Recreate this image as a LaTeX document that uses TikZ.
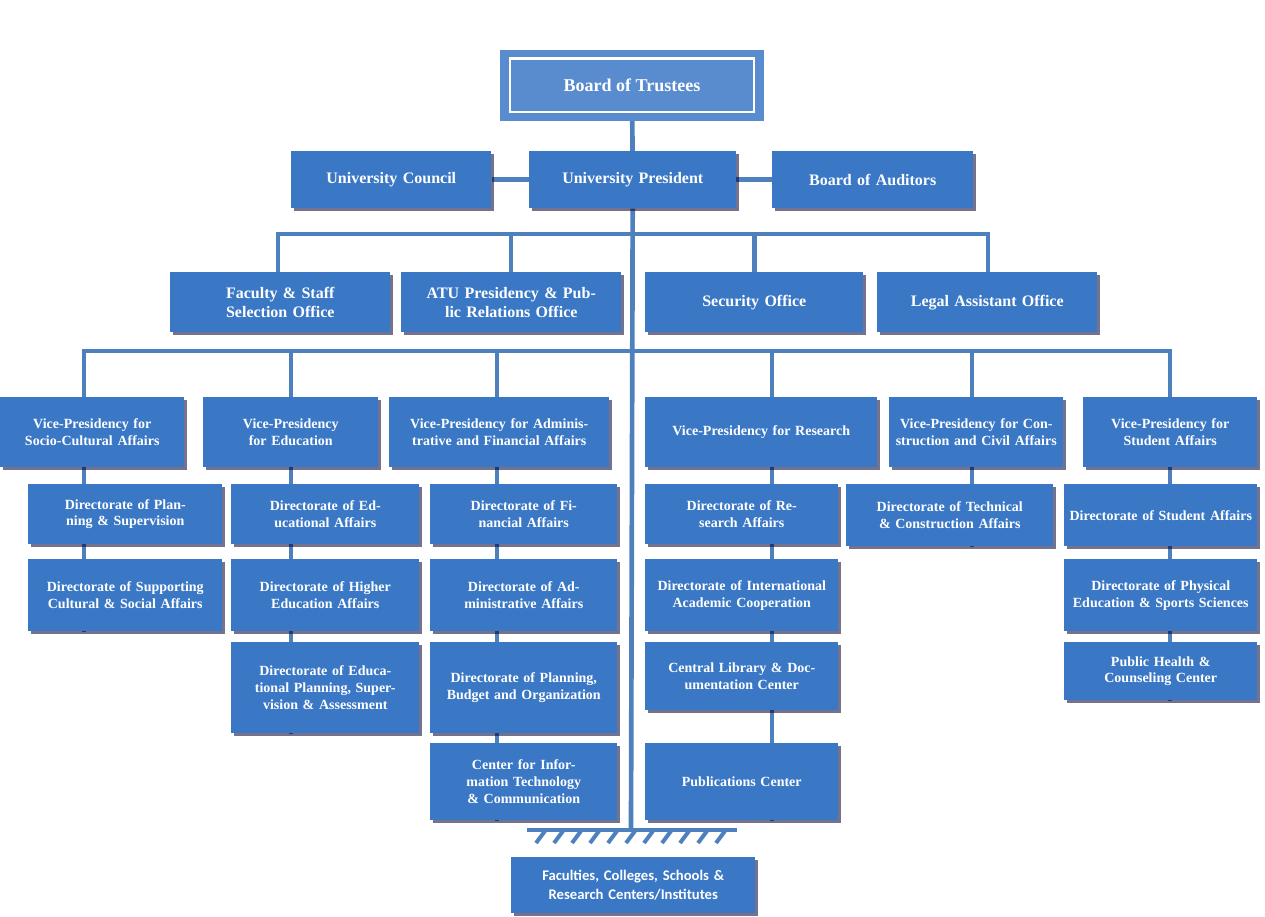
\documentclass[tikz,border=0pt]{standalone}
\usepackage{fontspec}
\setmainfont{Liberation Serif}
\newfontfamily\carl{Carlito}
\usetikzlibrary{shadows,backgrounds,calc}
\definecolor{boxblue}{RGB}{58,120,198}
\definecolor{linecol}{RGB}{78,128,190}
\tikzset{
 box/.style={fill=boxblue,draw=none,text=white,font=\bfseries\fontsize{10.5}{12.5}\selectfont,align=center,inner sep=1pt,
   drop shadow={shadow xshift=2pt,shadow yshift=-2pt,fill=black!80!blue,opacity=.55}},
 big/.style={font=\bfseries\fontsize{12}{14}\selectfont},
 conn/.style={draw=linecol,line width=3.5pt},
}
\newcommand\bx[7][]{%
 \pgfmathsetmacro\ww{(#5-#3)*0.75}\pgfmathsetmacro\hh{(#6-#4)*0.75}%
 \node[box,#1,minimum width=\ww pt,minimum height=\hh pt,text width=\ww pt-6pt,anchor=north west] (#2) at (#3,#4) {#7};}
\begin{document}
\begin{tikzpicture}[x=0.75pt,y=-0.75pt]
\useasboundingbox (0,0) rectangle (1265,917);
% Board of Trustees
\node[fill=boxblue!85!white,draw=boxblue!85!white,line width=3pt,minimum width=195pt,minimum height=50pt,anchor=north west,text=white,font=\bfseries\fontsize{13.5}{16}\selectfont] (bot) at (500,50) {};
\node[draw=white,line width=2pt,minimum width=183pt,minimum height=40pt,text=white,font=\bfseries\fontsize{13.5}{16}\selectfont] (boti) at (bot.center) {Board of Trustees};
\bx[big]{uc}{291}{151}{491}{208}{University Council}
\bx[big]{up}{529}{151}{736}{208}{University President}
\bx[big]{ba}{772}{151}{973}{208}{Board of Auditors}
\bx[big]{fs}{170}{272}{390}{332}{Faculty \& Staff Selection Office}
\bx[big]{atu}{401}{272}{621}{332}{ATU Presidency \& Public Relations Office}
\bx[big]{sec}{645}{272}{863}{332}{Security Office}
\bx[big]{leg}{877}{272}{1097}{332}{Legal Assistant Office}
% VPs
\bx{vp1}{0}{397}{184}{467}{Vice-Presidency for Socio-Cultural Affairs}
\bx{vp2}{203}{397}{378}{467}{Vice-Presidency for Education}
\bx{vp3}{389}{397}{609}{467}{Vice-Presidency for Administrative and Financial Affairs}
\bx{vp4}{645}{397}{877}{467}{Vice-Presidency for Research}
\bx{vp5}{889}{397}{1063}{467}{Vice-Presidency for Construction and Civil Affairs}
\bx{vp6}{1083}{397}{1257}{467}{Vice-Presidency for Student Affairs}
% col1
\bx{a1}{28}{484}{222}{544}{Directorate of Planning \& Supervision}
\bx{a2}{28}{559}{222}{631}{Directorate of Supporting Cultural \& Social Affairs}
% col2
\bx{b1}{231}{484}{419}{544}{Directorate of Educational Affairs}
\bx{b2}{231}{559}{419}{631}{Directorate of Higher Education Affairs}
\bx{b3}{231}{642}{419}{733}{Directorate of Educational Planning, Supervision \& Assessment}
% col3
\bx{c1}{430}{484}{617}{544}{Directorate of Financial Affairs}
\bx{c2}{430}{559}{617}{631}{Directorate of Administrative Affairs}
\bx{c3}{430}{642}{617}{733}{Directorate of Planning, Budget and Organization}
\bx{c4}{430}{743}{617}{820}{Center for Information Technology \& Communication}
% col4
\bx{d1}{645}{484}{838}{544}{Directorate of Research Affairs}
\bx{d2}{645}{559}{838}{631}{Directorate of International Academic Cooperation}
\bx{d3}{645}{642}{838}{710}{Central Library \& Documentation Center}
\bx{d4}{645}{743}{838}{820}{Publications Center}
% col5
\bx{e1}{846}{484}{1053}{546}{Directorate of Technical \& Construction Affairs}
% col6
\bx{f1}{1064}{484}{1257}{546}{Directorate of Student Affairs}
\bx{f2}{1064}{559}{1257}{631}{Directorate of Physical Education \& Sports Sciences}
\bx{f3}{1064}{642}{1257}{700}{Public Health \& Counseling Center}
% bottom
\bx[font=\carl\bfseries\fontsize{11}{14}\selectfont]{fac}{511}{857}{755}{913}{Faculties, Colleges, Schools \& Research Centers/Institutes}
\coordinate (bar1) at (631,234);
\coordinate (bar2) at (631,351);
\coordinate (hb) at (631,830);
\begin{scope}[on background layer]
\draw[conn] (bot) -- (up);
\draw[conn] (uc) -- (ba);
\draw[conn] (up) -- (hb);
\draw[conn] (fs.north -| 278,0) |- (bar1) -| (leg.north -| 988,0);
\draw[conn] (atu.north -| 511,0) -- (511,234);
\draw[conn] (sec.north) -- (sec.north |- bar1);
\draw[conn] (a2.south -| 84,0) -- (84,351) -| (f3.south -| 1170,0);
\draw[conn] (b3.south -| 291,0) -- (291,351);
\draw[conn] (c4.south -| 497,0) -- (497,351);
\draw[conn] (d4.south -| 772,0) -- (772,351);
\draw[conn] (e1.south -| 972,0) -- (972,351);
\draw[conn] (527,830) -- (737,830);
\foreach \x in {545,563,...,737} \draw[linecol,line width=3pt] (\x,831) -- (\x-9,843);
\end{scope}
\end{tikzpicture}
\end{document}
